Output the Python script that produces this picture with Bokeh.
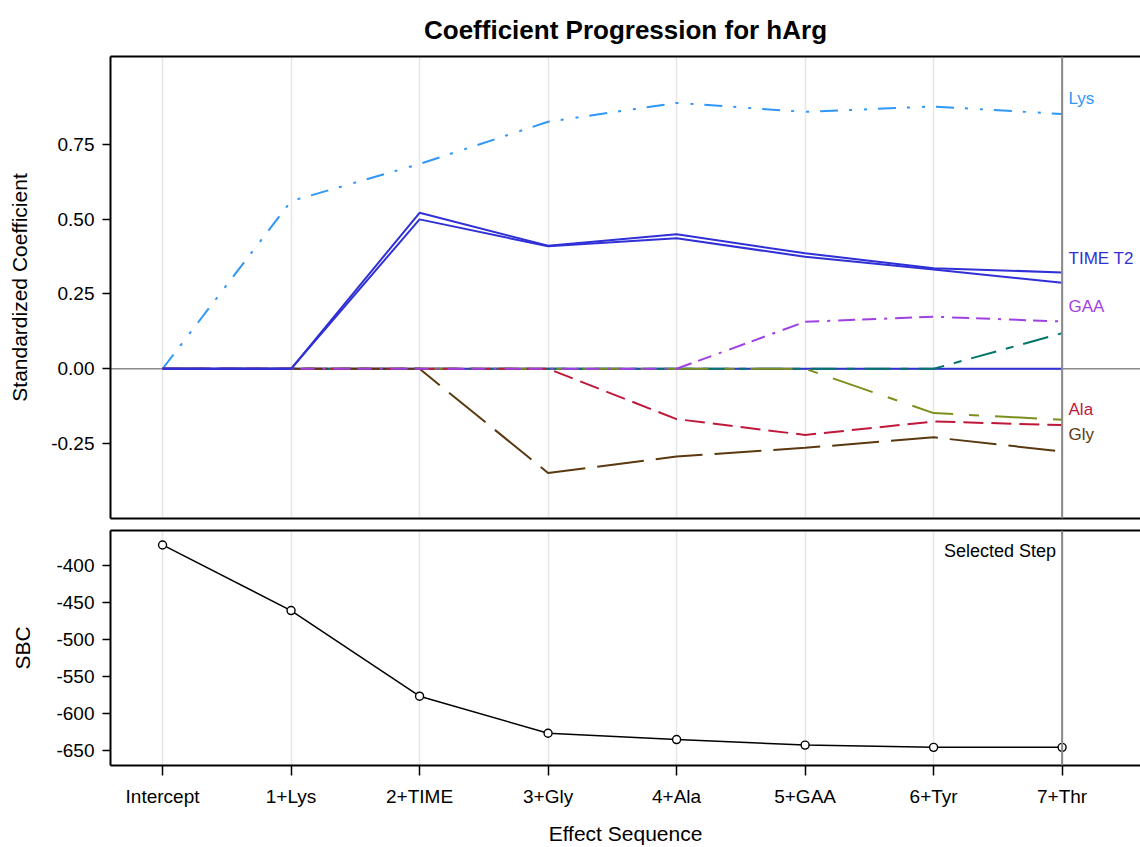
from bokeh.plotting import figure
from bokeh.models import Range1d, FixedTicker, PrintfTickFormatter, LinearAxis, Span, Label, ColumnDataSource
from bokeh.layouts import column
from bokeh.embed import file_html
from bokeh.resources import INLINE
from bokeh.core.properties import value

# ---------------- data ----------------
steps = ["Intercept", "1+Lys", "2+TIME", "3+Gly", "4+Ala", "5+GAA", "6+Tyr", "7+Thr"]
lys = [0.0, 0.560, 0.684, 0.825, 0.888, 0.858, 0.876, 0.851]
time_t1 = [0.0, 0.0, 0.521, 0.411, 0.449, 0.386, 0.336, 0.322]
time_t2 = [0.0, 0.0, 0.499, 0.409, 0.436, 0.374, 0.332, 0.287]
time_t3 = [0.0, 0.0, 0.0, 0.0, 0.0, 0.0, 0.0, 0.0]
gly = [0.0, 0.0, 0.0, -0.348, -0.293, -0.264, -0.229, -0.276]
ala = [0.0, 0.0, 0.0, 0.0, -0.168, -0.221, -0.176, -0.188]
gaa = [0.0, 0.0, 0.0, 0.0, 0.0, 0.157, 0.174, 0.158]
tyr = [0.0, 0.0, 0.0, 0.0, 0.0, 0.0, -0.148, -0.170]
thr = [0.0, 0.0, 0.0, 0.0, 0.0, 0.0, 0.0, 0.119]
sbc = [-372.5, -461.0, -576.5, -626.5, -635.0, -642.5, -645.5, -645.5]
coef_ticks = [-0.25, 0.0, 0.25, 0.50, 0.75]
sbc_ticks = [-650, -600, -550, -500, -450, -400]
selected_step = 7

# ---------------- styling ----------------
FONT = "Liberation Sans"
C_LYS = "#2f97f7"
C_TIME = "#3030d6"
C_GAA = "#a040e2"
C_THR = "#00766b"
C_TYR = "#7d8f1d"
C_ALA = "#c0183a"
C_GLY = "#5a3910"

x = list(range(len(steps)))
xr = Range1d(-0.405, 7.61)


def style_left(ax, standoff):
    ax.axis_line_width = 2
    ax.axis_line_color = "black"
    ax.major_tick_line_width = 1.5
    ax.major_tick_out = 8
    ax.major_tick_in = 0
    ax.minor_tick_line_color = None
    ax.major_label_text_font = FONT
    ax.major_label_text_font_size = "19px"
    ax.major_label_text_color = "black"
    ax.major_label_standoff = 8
    ax.axis_label_text_font = FONT
    ax.axis_label_text_font_size = "21px"
    ax.axis_label_text_font_style = "normal"
    ax.axis_label_text_color = "black"
    ax.axis_label_standoff = standoff


def border_axis(ax):
    ax.axis_line_width = 2
    ax.axis_line_color = "black"
    ax.ticker = FixedTicker(ticks=[])
    ax.major_tick_line_color = None
    ax.minor_tick_line_color = None
    ax.major_tick_out = 0
    ax.major_tick_in = 0
    ax.major_label_standoff = 0


# ---------------- top panel ----------------
p1 = figure(width=1140, height=524, x_range=xr, y_range=Range1d(-0.5, 1.043),
            output_backend="svg", toolbar_location=None,
            min_border_left=110, min_border_right=0, min_border_top=55, min_border_bottom=6)
p1.outline_line_color = None
p1.title.text = "Coefficient Progression for hArg"
p1.title.text_font = FONT
p1.title.text_font_size = "26px"
p1.title.text_font_style = "bold"
p1.title.text_color = "black"
p1.title.align = "center"
p1.title.standoff = 24

style_left(p1.yaxis[0], 17)
p1.yaxis[0].ticker = FixedTicker(ticks=coef_ticks)
p1.yaxis[0].formatter = PrintfTickFormatter(format="%.2f")
p1.yaxis[0].axis_label = "Standardized Coefficient"
border_axis(p1.xaxis[0])
top_ax = LinearAxis()
border_axis(top_ax)
p1.add_layout(top_ax, "above")

p1.ygrid.visible = False
p1.xgrid.ticker = FixedTicker(ticks=x)
p1.xgrid.grid_line_color = "#e6e6e6"
p1.xgrid.grid_line_width = 1.5

p1.add_layout(Span(location=0, dimension="width", line_color="#8a8a8a", line_width=1.5, level="underlay"))
p1.add_layout(Span(location=selected_step, dimension="height", line_color="#8a8a8a", line_width=2))

series = [
    (time_t3, C_TIME, "solid"),
    (lys, C_LYS, "18 11 3 12 3 11"),
    (thr, C_THR, "26 10 8 10"),
    (tyr, C_TYR, "42 16 10 16"),
    (ala, C_ALA, "20 8"),
    (gly, C_GLY, "47 12"),
    (gaa, C_GAA, "17 7 14 8 3 8"),
    (time_t1, C_TIME, "solid"),
    (time_t2, C_TIME, "solid"),
]
for ys, col, dash in series:
    p1.line(x, ys, line_color=col, line_width=2, line_dash=dash)

# curve labels at the selected step (layout positions)
lab_text = ["Lys", "TIME T2", "GAA", "Ala", "Gly"]
lab_color = [C_LYS, C_TIME, C_GAA, C_ALA, C_GLY]
lab_y = [0.903, 0.37, 0.207, -0.137, -0.22]
lab_src = ColumnDataSource(dict(x=[7.05] * len(lab_text), y=lab_y, t=lab_text, c=lab_color))
p1.text(x="x", y="y", text="t", text_color="c", source=lab_src, text_font=value(FONT),
        text_font_size="17px", text_align="left", text_baseline="middle")

# ---------------- bottom panel ----------------
p2 = figure(width=1140, height=323, x_range=xr, y_range=Range1d(-670, -353),
            output_backend="svg", toolbar_location=None,
            min_border_left=110, min_border_right=0, min_border_top=6, min_border_bottom=81)
p2.outline_line_color = None
style_left(p2.yaxis[0], 19)
p2.yaxis[0].ticker = FixedTicker(ticks=sbc_ticks)
p2.yaxis[0].formatter = PrintfTickFormatter(format="%d")
p2.yaxis[0].axis_label = "SBC"

bx = p2.xaxis[0]
bx.ticker = FixedTicker(ticks=x)
bx.major_label_overrides = {i: s for i, s in enumerate(steps)}
bx.axis_line_width = 2
bx.major_tick_line_width = 1.5
bx.major_tick_out = 10
bx.major_tick_in = 0
bx.minor_tick_line_color = None
bx.major_label_text_font = FONT
bx.major_label_text_font_size = "19px"
bx.major_label_text_color = "black"
bx.major_label_standoff = 10
bx.axis_label = "Effect Sequence"
bx.axis_label_text_font = FONT
bx.axis_label_text_font_size = "21px"
bx.axis_label_text_font_style = "normal"
bx.axis_label_text_color = "black"
bx.axis_label_standoff = 12

top_ax2 = LinearAxis()
border_axis(top_ax2)
p2.add_layout(top_ax2, "above")

p2.ygrid.visible = False
p2.xgrid.ticker = FixedTicker(ticks=x)
p2.xgrid.grid_line_color = "#e6e6e6"
p2.xgrid.grid_line_width = 1.5
p2.add_layout(Span(location=selected_step, dimension="height", line_color="#8a8a8a", line_width=2))

p2.line(x, sbc, line_color="black", line_width=1.5)
p2.scatter(x, sbc, marker="circle", size=8, fill_color="white", line_color="black", line_width=1.4)

p2.add_layout(Label(x=selected_step, y=-380, x_offset=-6, text="Selected Step", text_align="right",
                    text_baseline="middle", text_font=FONT, text_font_size="18px", text_color="black"))

layout = column(p1, p2, spacing=0)
open("out.html", "w").write(file_html(layout, INLINE))
